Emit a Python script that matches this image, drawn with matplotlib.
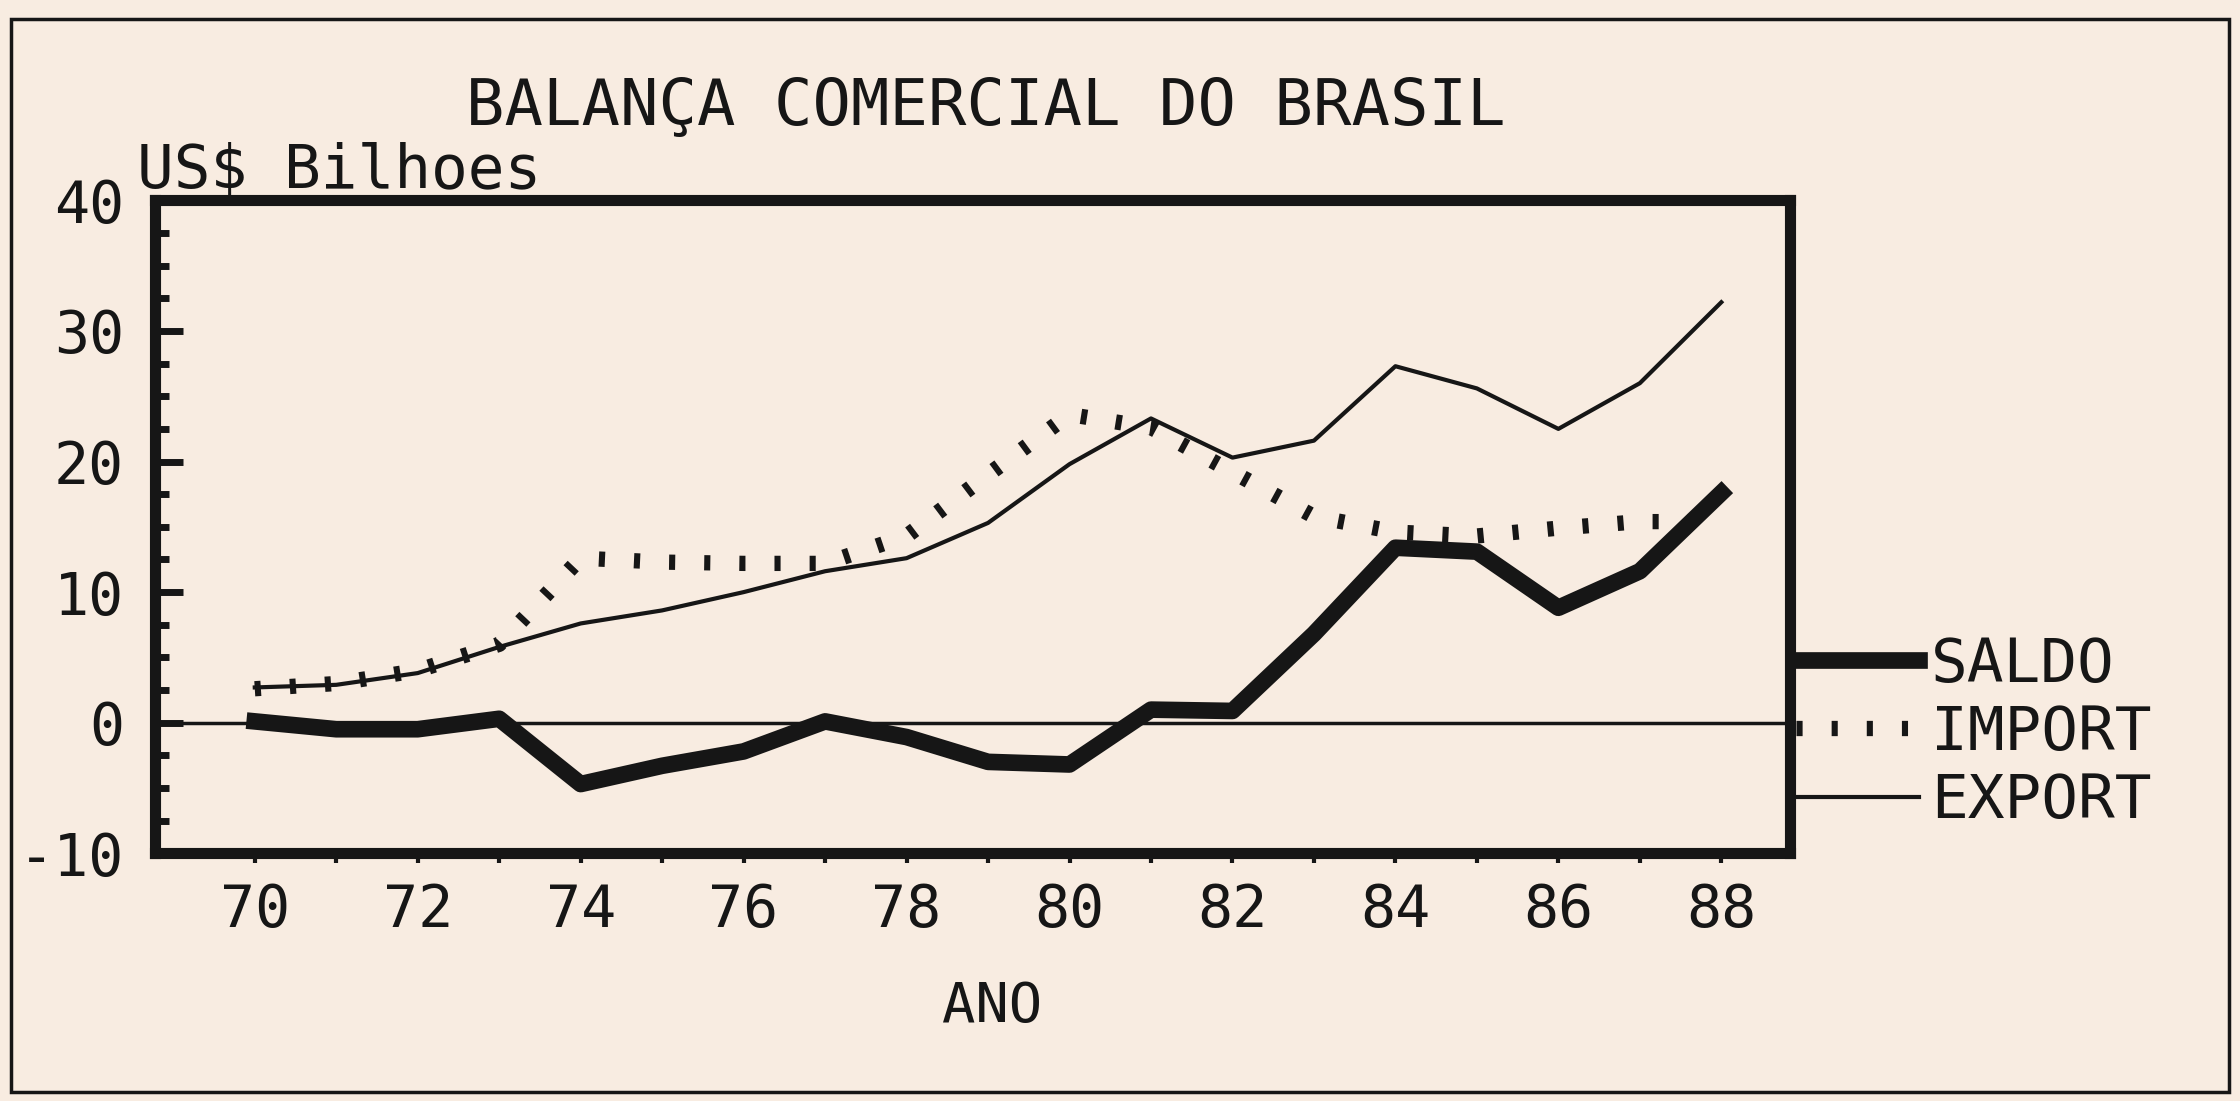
import matplotlib
matplotlib.use('Agg')
import matplotlib.pyplot as plt
from matplotlib.patches import Rectangle
from matplotlib.ticker import MultipleLocator

plt.rcParams['font.family'] = ['DejaVu Sans Mono']
plt.rcParams['axes.unicode_minus'] = False

# dados (US$ bilhoes)
anos = list(range(70, 89))
exportacao = [2.7, 2.9, 3.8, 5.8, 7.6, 8.6, 10.0, 11.6, 12.6, 15.3, 19.8, 23.3, 20.3, 21.6, 27.3, 25.6, 22.5, 26.0, 32.2]
importacao = [2.6, 3.0, 4.0, 6.0, 12.6, 12.3, 12.2, 12.2, 14.3, 19.0, 23.6, 22.6, 19.2, 15.8, 14.6, 14.3, 14.9, 15.4, 15.4]
saldo = [0.1, -0.5, -0.5, 0.3, -4.7, -3.3, -2.2, 0.1, -1.1, -3.0, -3.2, 1.0, 0.9, 6.8, 13.4, 13.1, 8.8, 11.6, 17.6]

yticks = [-10, 0, 10, 20, 30, 40]
ytick_labels = ['-10', '0', '10', '20', '30', '40']
xtick_labels = [str(a) if a % 2 == 0 else '' for a in anos]

bg = '#f8ece1'
ink = '#161616'

fig = plt.figure(figsize=(22.4, 11.01), dpi=100, facecolor=bg)
ax = fig.add_axes([0.069, 0.225, 0.730, 0.593])
ax.set_facecolor(bg)

l_saldo, = ax.plot(anos, saldo, color=ink, lw=12, label='SALDO')
l_imp, = ax.plot(anos, importacao, color=ink, lw=11, linestyle=(0, (0.4, 1.9)),
                 dash_capstyle='butt', label='IMPORT')
l_exp, = ax.plot(anos, exportacao, color=ink, lw=3, label='EXPORT')
ax.axhline(0, color=ink, lw=2.5)

ax.set_xlim(68.77, 88.84)
ax.set_ylim(-10, 40)
ax.set_yticks(yticks)
ax.set_yticklabels(ytick_labels)
ax.yaxis.set_minor_locator(MultipleLocator(2.5))
ax.set_xticks(anos)
ax.set_xticklabels(xtick_labels)

ax.tick_params(axis='y', which='major', direction='in', length=20, width=5,
               pad=22, labelsize=42, colors=ink)
ax.tick_params(axis='y', which='minor', direction='in', length=10, width=5, colors=ink)
ax.tick_params(axis='x', direction='out', length=7, width=3, pad=14,
               labelsize=42, colors=ink)

for s in ax.spines.values():
    s.set_linewidth(8)
    s.set_color(ink)

fig.text(0.44, 0.903, 'BALANÇA COMERCIAL DO BRASIL', ha='center', va='center',
         fontsize=46, color=ink)
fig.text(0.061, 0.844, 'US$ Bilhoes', ha='left', va='center', fontsize=44, color=ink)
fig.text(0.443, 0.085, 'ANO', ha='center', va='center', fontsize=40, color=ink)

fig.legend(handles=[l_saldo, l_imp, l_exp], loc='center left',
           bbox_to_anchor=(0.802, 0.334), frameon=False, fontsize=44,
           handlelength=2.0, handletextpad=0.2, labelspacing=0.15,
           borderpad=0, borderaxespad=0, labelcolor=ink)

fig.add_artist(Rectangle((0.005, 0.008), 0.99, 0.975, transform=fig.transFigure,
                         fill=False, lw=2.5, ec=ink))

fig.savefig('out.png', dpi=100, facecolor=bg)
